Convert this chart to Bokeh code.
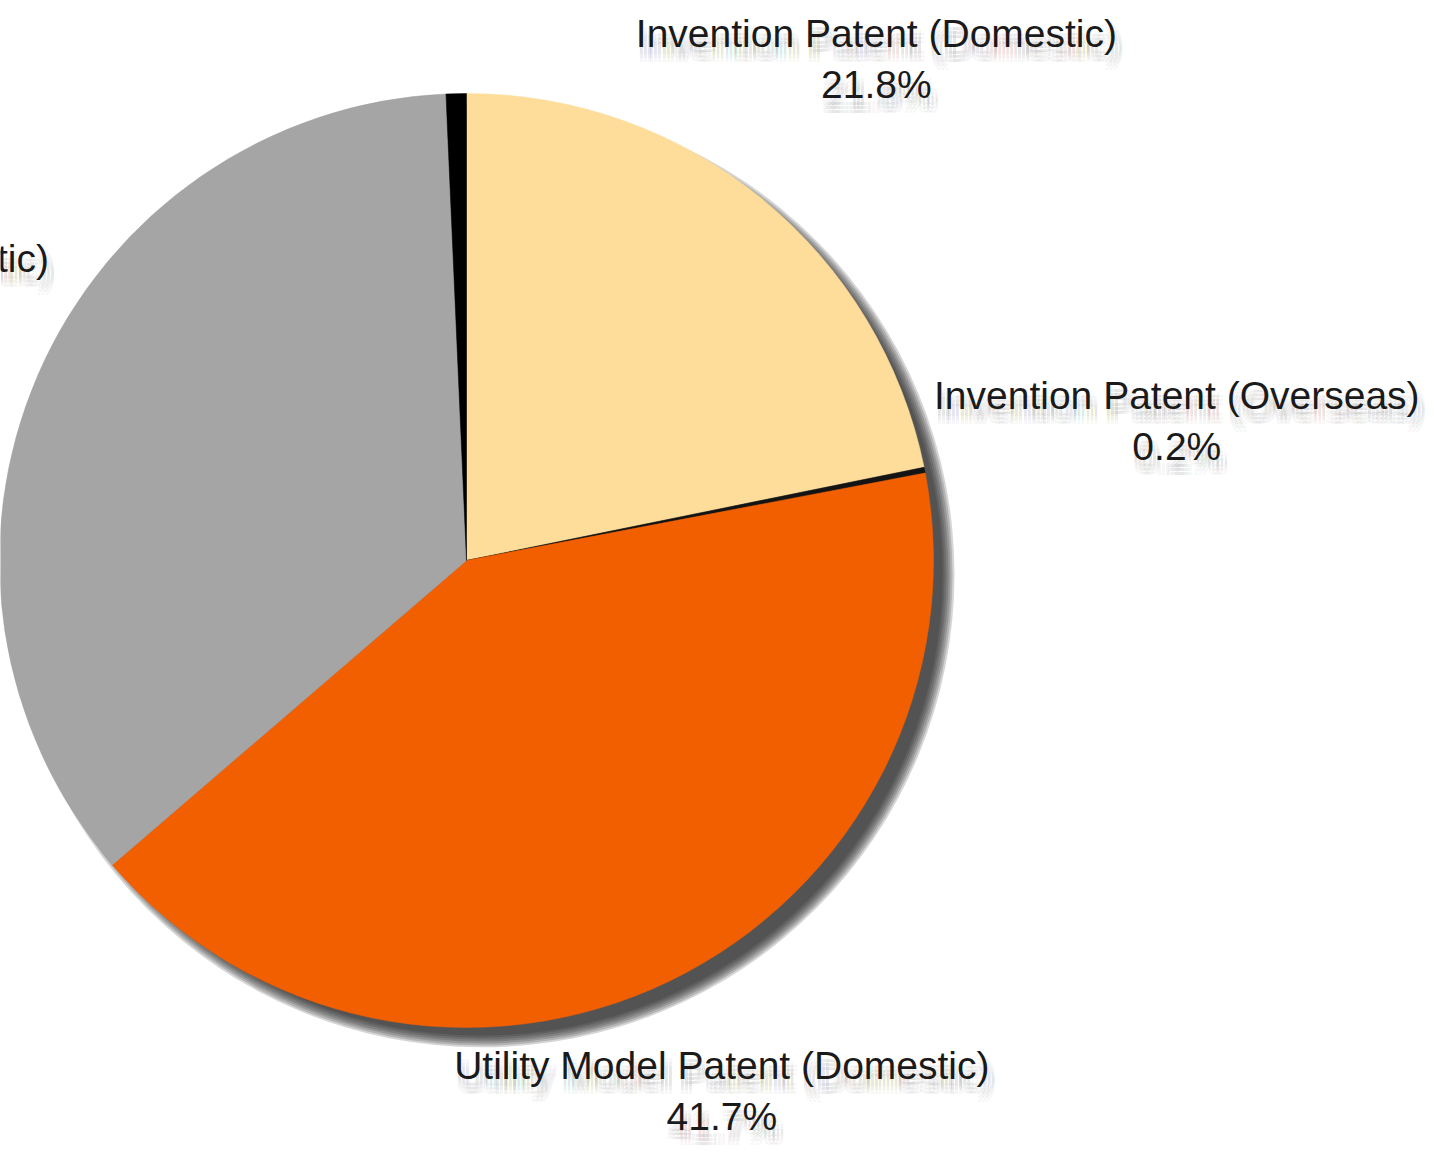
import math
from bokeh.plotting import figure
from bokeh.models import Range1d
from bokeh.core.properties import value
from bokeh.embed import file_html
from bokeh.resources import INLINE

# ---- data ----
categories = ["Invention Patent (Domestic)", "Invention Patent (Overseas)",
              "Utility Model Patent (Domestic)", "Design Patent (Domestic)",
              "Design Patent (Overseas)"]
shares = [21.8, 0.2, 41.7, 35.6, 0.7]
show_label = [True, True, True, True, False]
colors = ["#FEDD9B", "#141414", "#F25F00", "#A5A5A5", "#000000"]

# ---- layout (pixels) ----
W, H = 1434, 1154
CX, CY = 466, 560          # pie centre, pixels from top-left of the figure
R = 467
label_dist = [648, 724, 588, 697, 0]
FONT = "Liberation Sans"
FS = "39px"

p = figure(width=W, height=H, output_backend="svg", toolbar_location=None,
           x_axis_type=None, y_axis_type=None, min_border=0,
           x_range=Range1d(-CX, W - CX), y_range=Range1d(CY - H, CY))
p.outline_line_color = None
p.grid.visible = False
p.background_fill_color = "white"
p.border_fill_color = "white"

# pie drop shadow (faked blur with stacked translucent discs)
sdx, sdy = 15, -14
for k in range(7):
    p.circle(x=sdx, y=sdy, radius=R - 6 + 2 * k, fill_color="#222222",
             fill_alpha=0.19, line_color=None)

# wedges
total = sum(shares)
cum = 0.0
starts, ends, mids = [], [], []
for s in shares:
    a0 = math.pi / 2 - 2 * math.pi * cum / total
    cum += s
    a1 = math.pi / 2 - 2 * math.pi * cum / total
    starts.append(a0)
    ends.append(a1)
    mids.append((a0 + a1) / 2)

p.wedge(x=0, y=0, radius=R, start_angle=starts, end_angle=ends,
        direction="clock", fill_color=colors, line_color=colors, line_width=0.5)

# labels with soft shadow
shadow_offsets = [(dx, dy) for dx in (0, 4, 8) for dy in (-7, -11, -15)]
for i, cat in enumerate(categories):
    if not show_label[i]:
        continue
    cx = label_dist[i] * math.cos(mids[i])
    cy = label_dist[i] * math.sin(mids[i])
    lines = [(cat, cy + 25), (f"{shares[i]:.1f}%", cy - 26)]
    for txt, ty in lines:
        for dx, dy in shadow_offsets:
            p.text(x=[cx + dx], y=[ty + dy], text=[txt], text_font=value(FONT),
                   text_font_size=FS, text_align="center", text_baseline="middle",
                   text_color="black", text_alpha=0.034)
        p.text(x=[cx], y=[ty], text=[txt], text_font=value(FONT),
               text_font_size=FS, text_align="center", text_baseline="middle",
               text_color="#1a1a1a")

open("out.html", "w").write(file_html(p, INLINE))
